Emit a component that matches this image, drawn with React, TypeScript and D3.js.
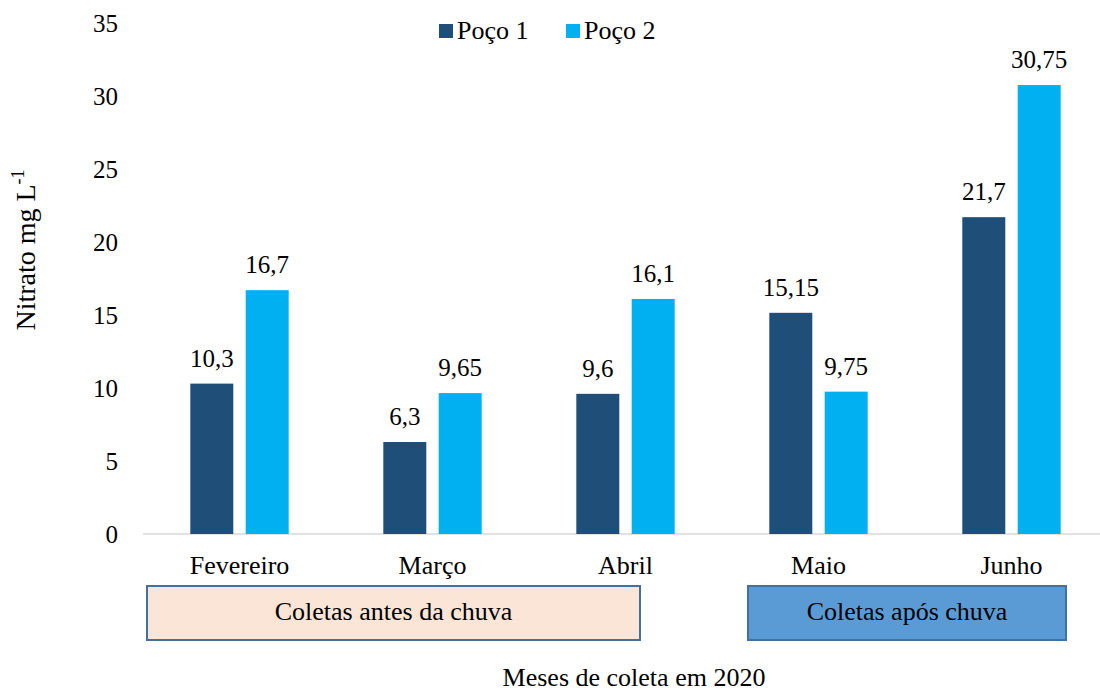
import React from "react";
import * as d3 from "d3";

const categories = ["Fevereiro", "Março", "Abril", "Maio", "Junho"];
const seriesNames = ["Poço 1", "Poço 2"];
const poco1 = [10.3, 6.3, 9.6, 15.15, 21.7];
const poco2 = [16.7, 9.65, 16.1, 9.75, 30.75];
const yTicks = [0, 5, 10, 15, 20, 25, 30, 35];
const groupLabels = ["Coletas antes da chuva", "Coletas após chuva"];

const colors = ["#1f4e79", "#00b0f0"];
const FONT = "Liberation Serif";

const fmt = (v: number) => String(v).replace(".", ",");

export default function App() {
  const W = 1100;
  const H = 691;
  const x = d3.scaleBand<string>().domain(categories).range([143, 1108]).padding(0);
  const xs = d3
    .scaleBand<string>()
    .domain(seriesNames)
    .range([0, x.bandwidth()])
    .paddingInner(0.224)
    .paddingOuter(0.854);
  const y = d3.scaleLinear().domain([0, 35]).range([534, 23]);
  const series = [poco1, poco2];

  const boxes = [
    { x0: 147, x1: 640, fill: "#fbe5d6", label: groupLabels[0] },
    { x0: 748, x1: 1066, fill: "#5b9bd5", label: groupLabels[1] },
  ];

  return (
    <svg
      width={W}
      height={H}
      style={{ position: "absolute", left: 0, top: 0, background: "#fff", fontFamily: FONT }}
    >
      {/* baseline */}
      <line x1={143} x2={1108} y1={y(0)} y2={y(0)} stroke="#d9d9d9" strokeWidth={1.5} />

      {/* y ticks */}
      {yTicks.map((t) => (
        <text
          key={t}
          x={118}
          y={y(t)}
          dy="0.35em"
          textAnchor="end"
          fontSize={25}
          fill="#000"
        >
          {t}
        </text>
      ))}

      {/* bars */}
      {categories.map((c, i) =>
        seriesNames.map((s, j) => {
          const v = series[j][i];
          const bx = (x(c) as number) + (xs(s) as number);
          return (
            <g key={c + s}>
              <rect
                x={bx}
                y={y(v)}
                width={xs.bandwidth()}
                height={y(0) - y(v)}
                fill={colors[j]}
              />
              <text
                x={bx + xs.bandwidth() / 2}
                y={y(v) - 17}
                textAnchor="middle"
                fontSize={25}
                fill="#000"
              >
                {fmt(v)}
              </text>
            </g>
          );
        })
      )}

      {/* category labels */}
      {categories.map((c) => (
        <text
          key={c}
          x={(x(c) as number) + x.bandwidth() / 2}
          y={574}
          textAnchor="middle"
          fontSize={26}
          fill="#000"
        >
          {c}
        </text>
      ))}

      {/* group boxes */}
      {boxes.map((b) => (
        <g key={b.label}>
          <rect
            x={b.x0}
            y={586}
            width={b.x1 - b.x0}
            height={54}
            fill={b.fill}
            stroke="#41719c"
            strokeWidth={2}
          />
          <text
            x={(b.x0 + b.x1) / 2}
            y={620}
            textAnchor="middle"
            fontSize={26}
            fill="#000"
          >
            {b.label}
          </text>
        </g>
      ))}

      {/* x axis title */}
      <text x={634} y={686} textAnchor="middle" fontSize={26} fill="#000">
        Meses de coleta em 2020
      </text>

      {/* y axis title */}
      <text
        transform="translate(35,250) rotate(-90)"
        textAnchor="middle"
        fontSize={28}
        fill="#000"
      >
        Nitrato mg L
        <tspan fontSize={18} dy={-11}>
          -1
        </tspan>
      </text>

      {/* legend */}
      {seriesNames.map((s, j) => {
        const lx = j === 0 ? 439 : 566;
        return (
          <g key={s}>
            <rect x={lx} y={24} width={14} height={14} fill={colors[j]} />
            <text x={lx + 18} y={39} fontSize={26} fill="#000">
              {s}
            </text>
          </g>
        );
      })}
    </svg>
  );
}
